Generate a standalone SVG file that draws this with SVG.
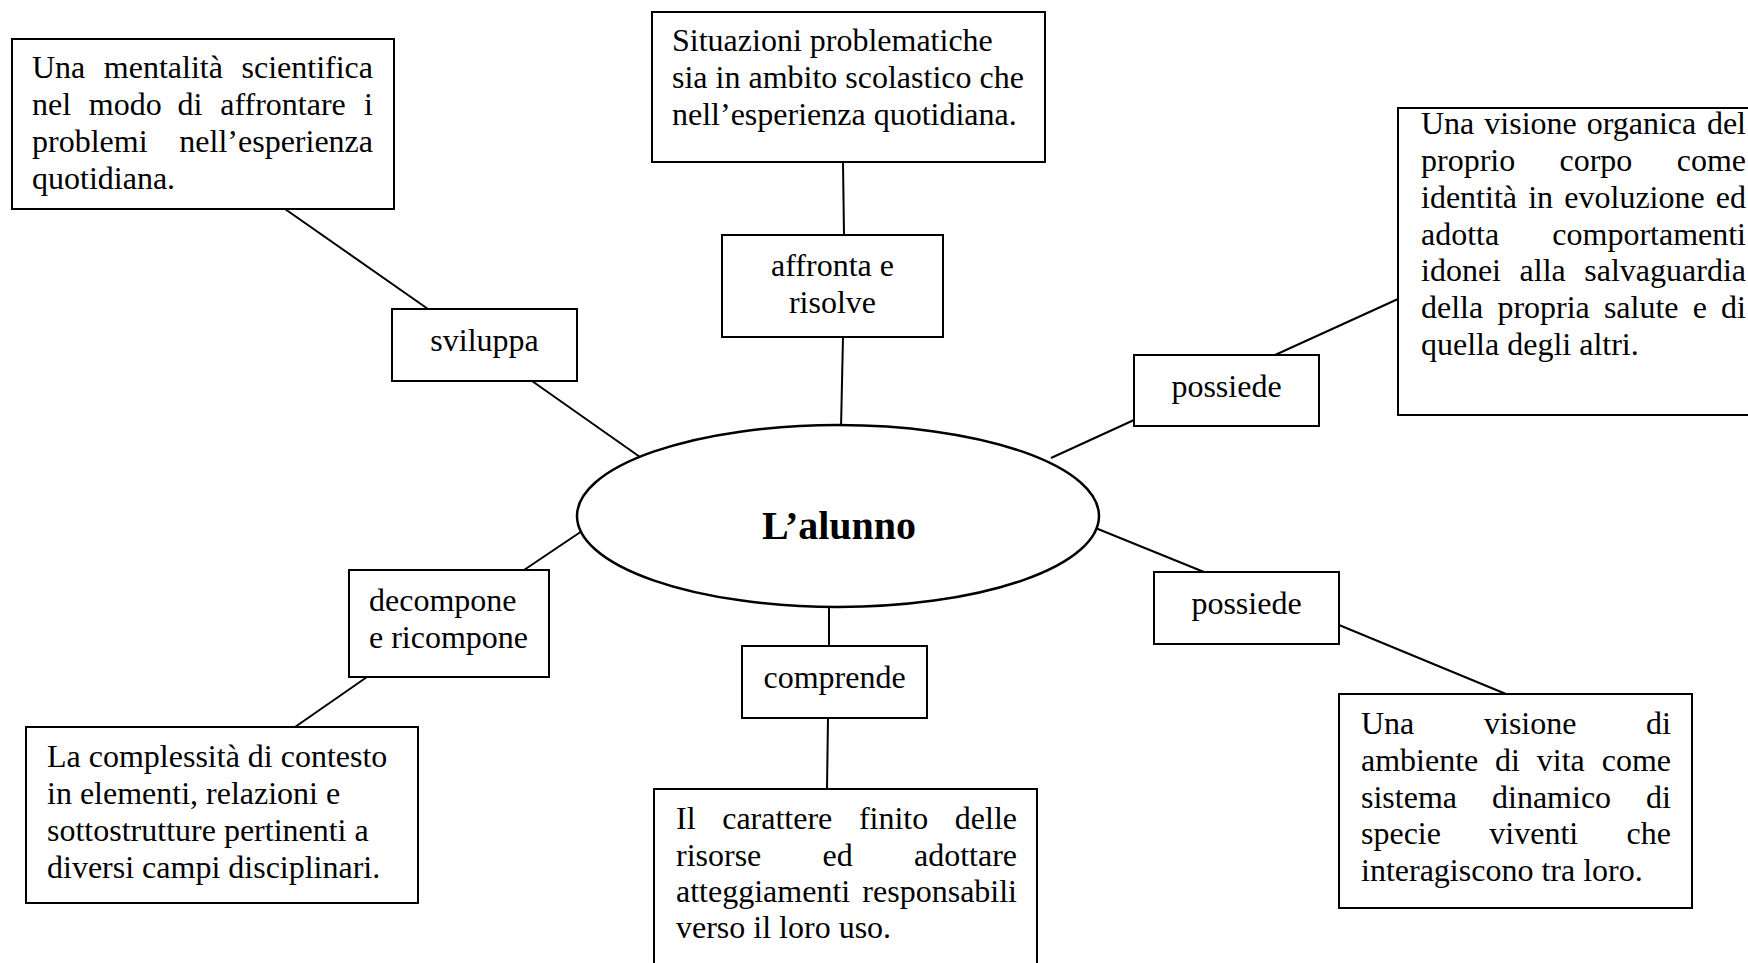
<svg xmlns="http://www.w3.org/2000/svg" width="1748" height="963" viewBox="0 0 1748 963">
<style>
.box{fill:#fff;stroke:#000;stroke-width:2}
.t{font-family:"Liberation Serif","Times New Roman",serif;font-size:32px;fill:#000}
.m{text-anchor:middle}
.e{text-anchor:end}
.c line{stroke:#000;stroke-width:2}
</style>
<rect width="1748" height="963" fill="#fff"/>
<g id="connectors" class="c">
<line x1="285" y1="209" x2="428" y2="309"/>
<line x1="532" y1="381" x2="640" y2="457"/>
<line x1="843" y1="162" x2="844" y2="235"/>
<line x1="843" y1="337" x2="841" y2="428"/>
<line x1="1051" y1="458" x2="1134" y2="420"/>
<line x1="1275" y1="355" x2="1398" y2="299"/>
<line x1="1093" y1="527" x2="1204" y2="572"/>
<line x1="1339" y1="625" x2="1506" y2="694"/>
<line x1="582" y1="531" x2="524" y2="570"/>
<line x1="367" y1="677" x2="295" y2="727"/>
<line x1="829" y1="605" x2="829" y2="646"/>
<line x1="828" y1="718" x2="827" y2="789"/>
</g>
<g id="center">
<ellipse cx="838" cy="516" rx="261" ry="91" fill="#fff" stroke="#000" stroke-width="2.5"/>
<text class="t m" x="839" y="539" style="font-weight:bold;font-size:40px">L’alunno</text>
</g>
<g id="n-mentalita">
<rect class="box" x="12" y="39" width="382" height="170"/>
<text class="t" x="32" y="78">Una</text>
<text class="t" x="103.8" y="78">mentalità</text>
<text class="t e" x="373" y="78">scientifica</text>
<text class="t" x="32" y="115">nel</text>
<text class="t" x="88.8" y="115">modo</text>
<text class="t" x="177.6" y="115">di</text>
<text class="t" x="220.2" y="115">affrontare</text>
<text class="t e" x="373" y="115">i</text>
<text class="t" x="32" y="152">problemi</text>
<text class="t e" x="373" y="152">nell’esperienza</text>
<text class="t" x="32" y="189">quotidiana.</text>
</g>
<g id="n-situazioni">
<rect class="box" x="652" y="12" width="393" height="150"/>
<text class="t" x="672" y="51">Situazioni problematiche</text>
<text class="t" x="672" y="88">sia in ambito scolastico che</text>
<text class="t" x="672" y="125">nell’esperienza quotidiana.</text>
</g>
<g id="n-corpo">
<rect class="box" x="1398" y="108" width="370" height="307"/>
<text class="t" x="1421" y="134">Una</text>
<text class="t" x="1484.3" y="134">visione</text>
<text class="t" x="1586.7" y="134">organica</text>
<text class="t e" x="1746" y="134">del</text>
<text class="t" x="1421" y="171">proprio</text>
<text class="t" x="1559.5" y="171">corpo</text>
<text class="t e" x="1746" y="171">come</text>
<text class="t" x="1421" y="208">identità</text>
<text class="t" x="1528.2" y="208">in</text>
<text class="t" x="1564.3" y="208">evoluzione</text>
<text class="t e" x="1746" y="208">ed</text>
<text class="t" x="1421" y="245">adotta</text>
<text class="t e" x="1746" y="245">comportamenti</text>
<text class="t" x="1421" y="281">idonei</text>
<text class="t" x="1519.6" y="281">alla</text>
<text class="t e" x="1746" y="281">salvaguardia</text>
<text class="t" x="1421" y="318">della</text>
<text class="t" x="1497.4" y="318">propria</text>
<text class="t" x="1603.9" y="318">salute</text>
<text class="t" x="1692.8" y="318">e</text>
<text class="t e" x="1746" y="318">di</text>
<text class="t" x="1421" y="355">quella degli altri.</text>
</g>
<g id="n-sviluppa">
<rect class="box" x="392" y="309" width="185" height="72"/>
<text class="t m" x="484.5" y="351">sviluppa</text>
</g>
<g id="n-affronta">
<rect class="box" x="722" y="235" width="221" height="102"/>
<text class="t m" x="832.5" y="276">affronta e</text>
<text class="t m" x="832.5" y="313">risolve</text>
</g>
<g id="n-possiede1">
<rect class="box" x="1134" y="355" width="185" height="71"/>
<text class="t m" x="1226.5" y="397">possiede</text>
</g>
<g id="n-possiede2">
<rect class="box" x="1154" y="572" width="185" height="72"/>
<text class="t m" x="1246.5" y="614">possiede</text>
</g>
<g id="n-decompone">
<rect class="box" x="349" y="570" width="200" height="107"/>
<text class="t" x="369" y="611">decompone</text>
<text class="t" x="369" y="648">e ricompone</text>
</g>
<g id="n-comprende">
<rect class="box" x="742" y="646" width="185" height="72"/>
<text class="t m" x="834.5" y="688">comprende</text>
</g>
<g id="n-complessita">
<rect class="box" x="26" y="727" width="392" height="176"/>
<text class="t" x="47" y="767">La complessità di contesto</text>
<text class="t" x="47" y="804">in elementi, relazioni e</text>
<text class="t" x="47" y="841">sottostrutture pertinenti a</text>
<text class="t" x="47" y="878">diversi campi disciplinari.</text>
</g>
<g id="n-risorse">
<rect class="box" x="654" y="789" width="383" height="200"/>
<text class="t" x="676" y="829">Il</text>
<text class="t" x="722.2" y="829">carattere</text>
<text class="t" x="858.9" y="829">finito</text>
<text class="t e" x="1017" y="829">delle</text>
<text class="t" x="676" y="866">risorse</text>
<text class="t" x="822.5" y="866">ed</text>
<text class="t e" x="1017" y="866">adottare</text>
<text class="t" x="676" y="902">atteggiamenti</text>
<text class="t e" x="1017" y="902">responsabili</text>
<text class="t" x="676" y="938">verso il loro uso.</text>
</g>
<g id="n-ambiente">
<rect class="box" x="1339" y="694" width="353" height="214"/>
<text class="t" x="1361" y="734">Una</text>
<text class="t" x="1484" y="734">visione</text>
<text class="t e" x="1671" y="734">di</text>
<text class="t" x="1361" y="771">ambiente</text>
<text class="t" x="1495.1" y="771">di</text>
<text class="t" x="1536.8" y="771">vita</text>
<text class="t e" x="1671" y="771">come</text>
<text class="t" x="1361" y="808">sistema</text>
<text class="t" x="1492" y="808">dinamico</text>
<text class="t e" x="1671" y="808">di</text>
<text class="t" x="1361" y="844">specie</text>
<text class="t" x="1489.3" y="844">viventi</text>
<text class="t e" x="1671" y="844">che</text>
<text class="t" x="1361" y="881">interagiscono tra loro.</text>
</g>
</svg>
